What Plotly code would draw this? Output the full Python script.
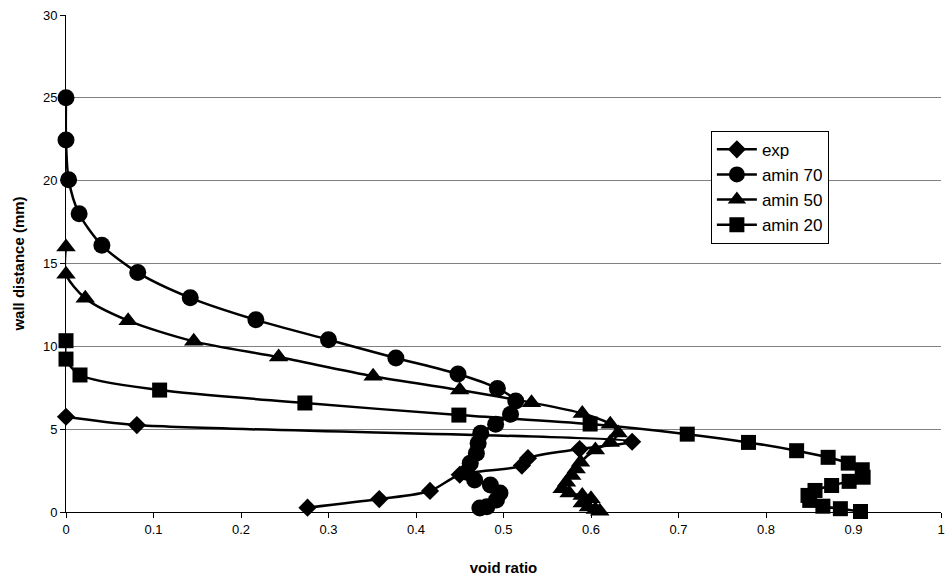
import plotly.graph_objects as go

# exp series (diamonds)
exp_x = [0.0, 0.081, 0.647, 0.587, 0.528, 0.521, 0.45, 0.416, 0.358, 0.276]
exp_y = [5.75, 5.25, 4.24, 3.8, 3.25, 2.8, 2.25, 1.27, 0.78, 0.26]

# amin 70 (circles)
a70_x = [0.0, 0.0, 0.003, 0.015, 0.041, 0.082, 0.142, 0.217, 0.300, 0.377, 0.448,
         0.493, 0.514, 0.508, 0.491, 0.474, 0.471, 0.469, 0.462, 0.458, 0.467,
         0.485, 0.496, 0.492, 0.481, 0.473]
a70_y = [25.0, 22.45, 20.05, 18.0, 16.1, 14.45, 12.93, 11.6, 10.4, 9.3, 8.33,
         7.46, 6.7, 5.9, 5.3, 4.75, 4.15, 3.55, 2.95, 2.4, 1.93,
         1.63, 1.15, 0.72, 0.32, 0.24]

# amin 50 (triangles)
a50_x = [0.0, 0.0, 0.022, 0.071, 0.146, 0.243, 0.351, 0.45, 0.532, 0.59, 0.622,
         0.631, 0.622, 0.605, 0.588, 0.583, 0.578, 0.572, 0.567, 0.575, 0.59,
         0.6, 0.59, 0.597, 0.605, 0.61]
a50_y = [16.0, 14.35, 12.9, 11.55, 10.3, 9.35, 8.2, 7.36, 6.6, 5.95, 5.3,
         4.77, 4.2, 3.75, 3.0, 2.6, 2.2, 1.8, 1.4, 1.15, 1.0,
         0.8, 0.55, 0.3, 0.15, 0.05]

# amin 20 (squares)
a20_x = [0.0, 0.0, 0.016, 0.107, 0.273, 0.449, 0.599, 0.71, 0.78, 0.835, 0.871,
         0.894, 0.91, 0.911, 0.895, 0.875, 0.856, 0.848, 0.85, 0.865, 0.885, 0.908]
a20_y = [10.34, 9.23, 8.27, 7.36, 6.58, 5.85, 5.31, 4.7, 4.2, 3.7, 3.3,
         2.95, 2.55, 2.1, 1.85, 1.6, 1.3, 1.0, 0.7, 0.35, 0.2, 0.03]

x_ticks = [0, 0.1, 0.2, 0.3, 0.4, 0.5, 0.6, 0.7, 0.8, 0.9, 1]
x_labels = ["0", "0.1", "0.2", "0.3", "0.4", "0.5", "0.6", "0.7", "0.8", "0.9", "1"]
y_ticks = [0, 5, 10, 15, 20, 25, 30]

series = [
    ("exp", exp_x, exp_y, "diamond", 14),
    ("amin 70", a70_x, a70_y, "circle", 17),
    ("amin 50", a50_x, a50_y, "triangle-up", 17),
    ("amin 20", a20_x, a20_y, "square", 15),
]

fig = go.Figure()
for name, xs, ys, sym, sz in series:
    fig.add_trace(go.Scatter(
        x=xs, y=ys, name=name, mode="lines+markers",
        line=dict(color="black", width=2.5, shape="spline", smoothing=0.8),
        marker=dict(symbol=sym, size=sz, color="black"),
        cliponaxis=False,
    ))

font = "Arial, Liberation Sans, sans-serif"
fig.update_layout(
    width=948, height=583,
    margin=dict(l=66, r=7, t=15, b=71),
    paper_bgcolor="white", plot_bgcolor="white",
    font=dict(family=font, color="black", size=13),
    showlegend=True,
    legend=dict(x=0.737, y=0.767, xanchor="left", yanchor="top",
                bordercolor="black", borderwidth=1, bgcolor="white",
                font=dict(size=17, family=font), itemwidth=40,
                tracegroupgap=0),
    xaxis=dict(range=[0, 1], tickvals=x_ticks, ticktext=x_labels, automargin=False,
               showgrid=False, zeroline=False, showline=True, linecolor="black",
               linewidth=1, ticks="outside", ticklen=5, tickcolor="black",
               title=dict(text="<b>void ratio</b>", font=dict(size=15, family=font), standoff=26),
               tickfont=dict(size=13)),
    yaxis=dict(range=[0, 30], tickvals=y_ticks, automargin=False,
               showgrid=True, gridcolor="#808080", gridwidth=1, zeroline=False,
               showline=True, linecolor="black", linewidth=1,
               ticks="outside", ticklen=5, tickcolor="black",
               title=dict(text="<b>wall distance (mm)</b>", font=dict(size=15, family=font), standoff=14),
               tickfont=dict(size=13)),
)

fig.write_html("out.html", config={"displayModeBar": False},
               post_script="document.body.style.margin='0';document.body.style.overflow='hidden';")
